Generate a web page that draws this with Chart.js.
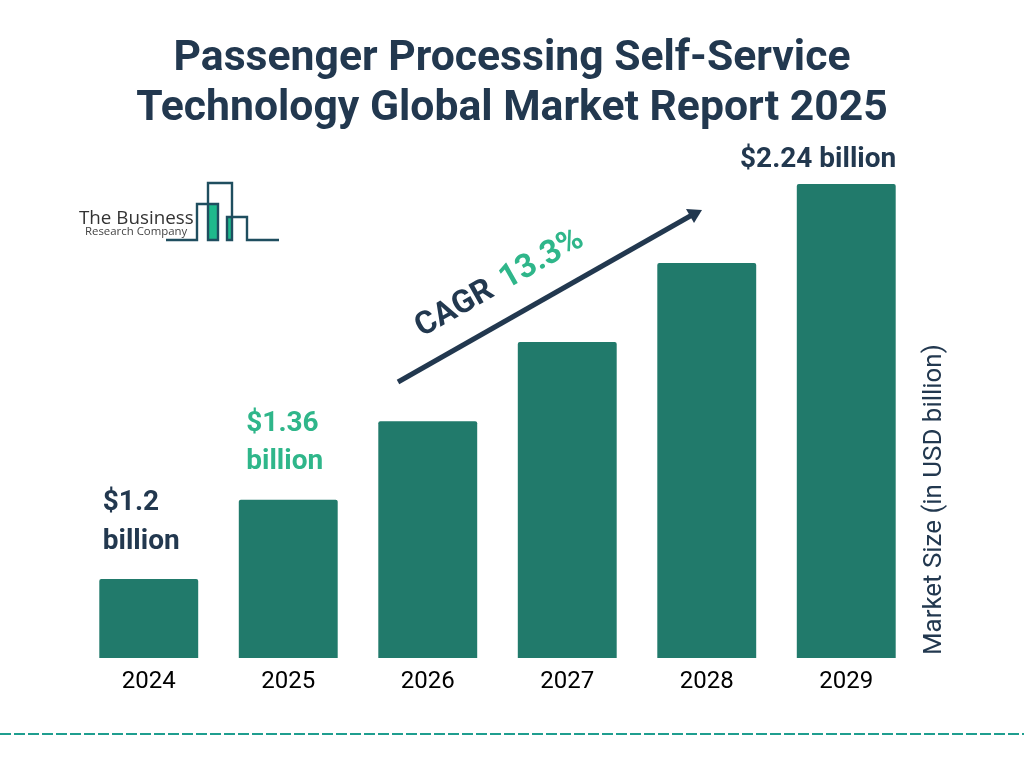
<!DOCTYPE html>
<html>
<head>
<meta charset="utf-8">
<title>Passenger Processing Self-Service Technology Global Market Report 2025</title>
<script src="https://cdn.jsdelivr.net/npm/chart.js@4"></script>
<style>
  html, body { margin: 0; padding: 0; background: #fff; }
  #wrap { width: 1024px; height: 768px; }
</style>
</head>
<body>
<div id="wrap"><canvas id="marketChart" width="1024" height="768"></canvas></div>
<script>
const years = ['2024', '2025', '2026', '2027', '2028', '2029'];
const marketSize = [1.2, 1.36, 1.54, 1.745, 1.977, 2.24];
const valueLabels = [['$1.2', 'billion'], ['$1.36', 'billion'], null, null, null, ['$2.24 billion']];
const titleLines = ['Passenger Processing Self-Service', 'Technology Global Market Report 2025'];

const NAVY = '#22384f';
const GREEN = '#2fb68a';
const BAR = '#217a6b';
const LOGO = '#1f4e5f';

function text(ctx, str, x, y, font, color, align) {
  ctx.font = font;
  ctx.fillStyle = color;
  ctx.textAlign = align || 'left';
  ctx.textBaseline = 'alphabetic';
  ctx.fillText(str, x, y);
}

// everything that is not a bar or axis: title, value labels, arrow, logo, footer line
const decorations = {
  id: 'decorations',
  afterDraw(chart) {
    const ctx = chart.ctx;
    ctx.save();

    text(ctx, titleLines[0], 512, 70, 'bold 42.7px Roboto', NAVY, 'center');
    text(ctx, titleLines[1], 512, 120, 'bold 42.7px Roboto', NAVY, 'center');

    // value labels
    const bars = chart.getDatasetMeta(0).data;
    const labelFont = 'bold 28px Roboto';
    text(ctx, valueLabels[0][0], bars[0].x - 46, 510, labelFont, NAVY);
    text(ctx, valueLabels[0][1], bars[0].x - 46, 549, labelFont, NAVY);
    text(ctx, valueLabels[1][0], bars[1].x - 42, 431, labelFont, GREEN);
    text(ctx, valueLabels[1][1], bars[1].x - 42, 469, labelFont, GREEN);
    text(ctx, valueLabels[5][0], bars[5].x + 50, bars[5].y - 17, labelFont, NAVY, 'right');

    // axis title, reads bottom to top
    ctx.save();
    ctx.translate(941, 655);
    ctx.rotate(-Math.PI / 2);
    text(ctx, 'Market Size (in USD billion)', 0, 0, '25.9px Roboto', NAVY);
    ctx.restore();

    // CAGR arrow
    ctx.strokeStyle = NAVY;
    ctx.lineWidth = 5;
    ctx.beginPath();
    ctx.moveTo(398, 382);
    ctx.lineTo(692, 215);
    ctx.stroke();
    ctx.fillStyle = NAVY;
    ctx.beginPath();
    ctx.moveTo(702, 210);
    ctx.lineTo(686, 209);
    ctx.lineTo(694, 223);
    ctx.closePath();
    ctx.fill();

    // CAGR text follows the arrow
    ctx.save();
    ctx.translate(422, 337);
    ctx.rotate(-29.5 * Math.PI / 180);
    text(ctx, 'CAGR', 0, 0, 'bold 32px Roboto', NAVY);
    text(ctx, '13.3%', 97, 0, 'bold 33px Roboto', GREEN);
    ctx.restore();

    // logo
    ctx.fillStyle = '#1fb98c';
    ctx.fillRect(209, 205, 9, 34);
    ctx.fillRect(227, 218, 5, 21);
    ctx.strokeStyle = LOGO;
    ctx.lineWidth = 2.4;
    ctx.beginPath();
    ctx.moveTo(166, 240);
    ctx.lineTo(197, 240);
    ctx.lineTo(197, 204);
    ctx.lineTo(218, 204);
    ctx.lineTo(218, 240);
    ctx.lineTo(208, 240);
    ctx.lineTo(208, 183);
    ctx.lineTo(232, 183);
    ctx.lineTo(232, 240);
    ctx.lineTo(227, 240);
    ctx.lineTo(227, 217);
    ctx.lineTo(247, 217);
    ctx.lineTo(247, 240);
    ctx.lineTo(279, 240);
    ctx.stroke();
    text(ctx, 'The Business', 79, 224, '18.8px "Open Sans"', '#333333');
    text(ctx, 'Research Company', 85, 235, '11.4px "Open Sans"', '#444444');

    // dashed footer line
    ctx.strokeStyle = '#1f9e8f';
    ctx.lineWidth = 2;
    ctx.setLineDash([11, 3]);
    ctx.beginPath();
    ctx.moveTo(0, 734);
    ctx.lineTo(1024, 734);
    ctx.stroke();

    ctx.restore();
  }
};

const ctx = document.getElementById('marketChart').getContext('2d');
new Chart(ctx, {
  type: 'bar',
  data: {
    labels: years,
    datasets: [{
      label: 'Market Size (in USD billion)',
      data: marketSize,
      backgroundColor: BAR,
      borderRadius: 2,
      borderSkipped: 'bottom',
      categoryPercentage: 1,
      barPercentage: 0.709
    }]
  },
  options: {
    responsive: false,
    animation: false,
    layout: { padding: { left: 79, right: 108, top: 184, bottom: 40 } },
    plugins: { legend: { display: false }, tooltip: { enabled: false } },
    scales: {
      x: {
        grid: { display: false },
        border: { display: false },
        ticks: { color: '#000000', font: { family: 'Roboto', size: 24 }, padding: 2, maxRotation: 0 },
        afterFit: scale => { scale.height = 70; }
      },
      y: {
        // the source bars climb in equal steps, which is what a constant growth
        // rate gives on a log axis
        type: 'logarithmic',
        display: false,
        min: 1.0592,
        max: 2.24
      }
    }
  },
  plugins: [decorations]
});
</script>
</body>
</html>
